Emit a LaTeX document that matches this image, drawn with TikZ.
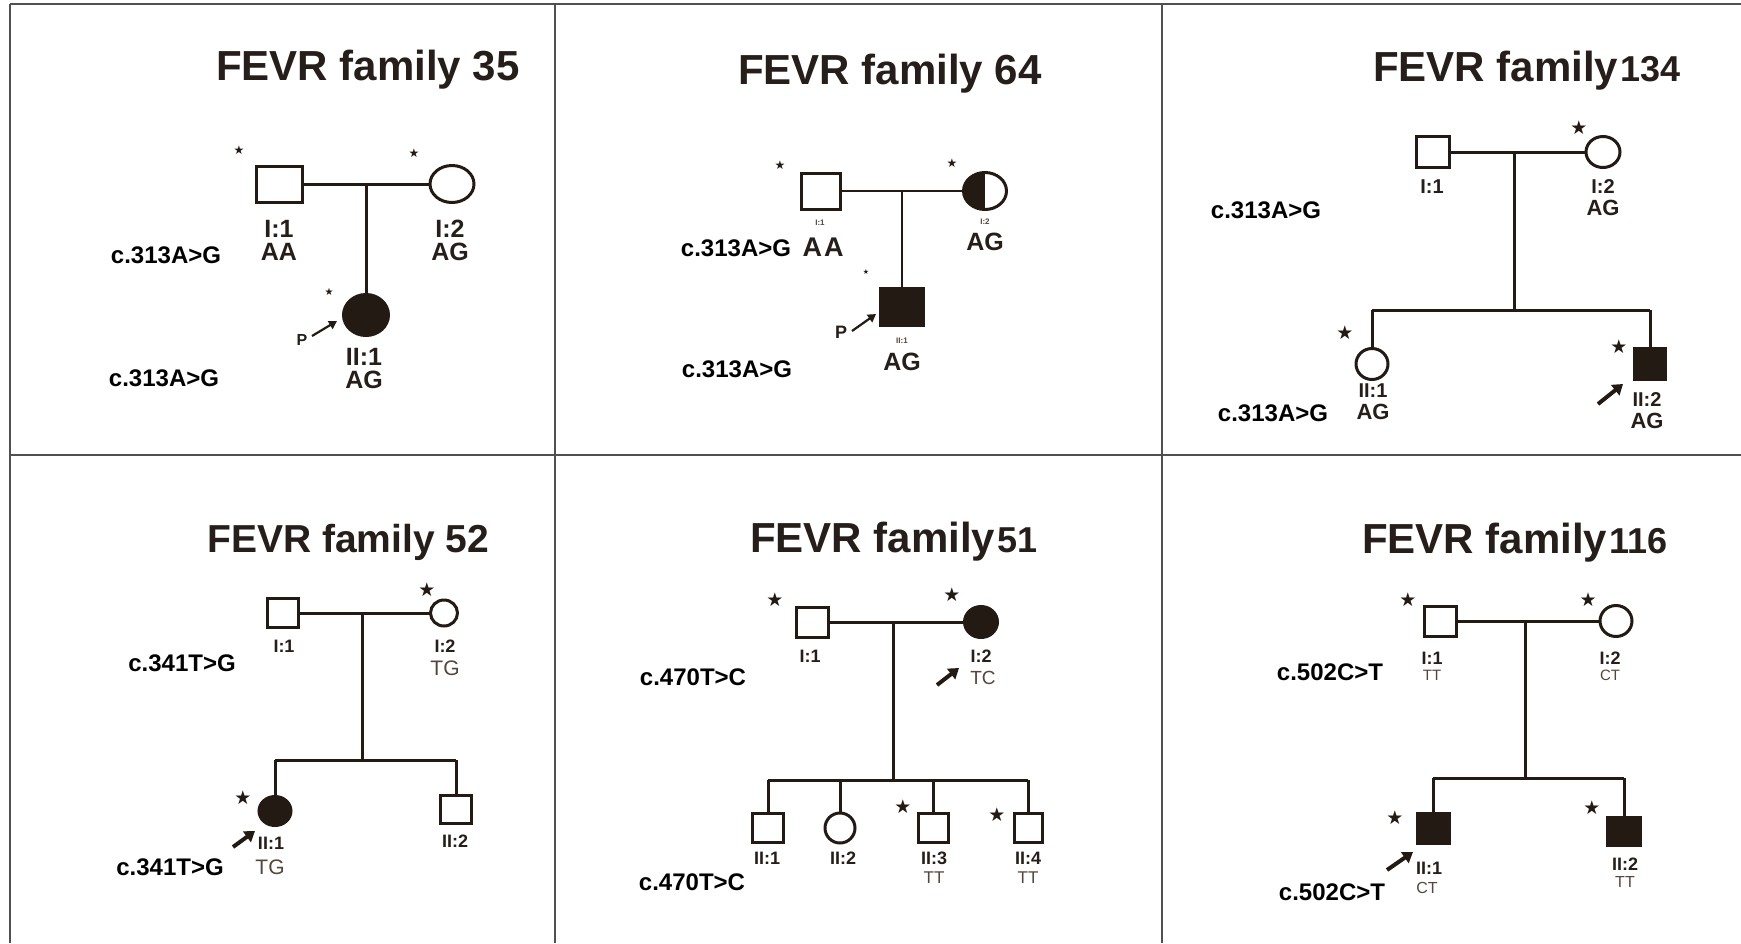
\documentclass[tikz,border=0pt]{standalone}
\usepackage{fontspec}
\setmainfont{Liberation Sans}
\newfontfamily\symfont{DejaVu Sans}
\usetikzlibrary{shapes.geometric,arrows.meta}
\definecolor{pedc}{RGB}{35,26,20}
\definecolor{txtc}{RGB}{38,30,26}
\definecolor{softc}{RGB}{85,70,60}
\definecolor{gridc}{RGB}{80,80,80}
\tikzset{
  conn/.style={draw=pedc, line width=3pt},
  thinconn/.style={draw=pedc, line width=1.8pt},
  sq/.style 2 args={rectangle, draw=pedc, line width=3pt, inner sep=0pt, outer sep=0pt, minimum width=#1, minimum height=#2},
  ci/.style 2 args={ellipse, draw=pedc, line width=3pt, inner sep=0pt, outer sep=0pt, minimum width=#1, minimum height=#2},
  aff/.style={fill=pedc},
  half/.style={path picture={\fill[pedc] (path picture bounding box.south west) rectangle (path picture bounding box.north);}},
  lbl/.style={text=txtc, inner sep=0pt, font=\bfseries\fontsize{#1}{#1}\selectfont},
  lbl/.default=20,
  gt/.style={text=softc, inner sep=0pt, font=\fontsize{#1}{#1}\selectfont},
  gt/.default=18,
  var/.style={text=black, inner sep=0pt, font=\bfseries\fontsize{24}{24}\selectfont},
  ttl/.style={text=txtc, inner sep=0pt, anchor=base west, font=\bfseries\fontsize{#1}{#1}\selectfont},
  ttl/.default=42,
  starn/.style={text=pedc, inner sep=0pt, font=\symfont\fontsize{#1}{#1}\selectfont},
  starn/.default=19,
  parr/.style={draw=pedc, line width=2.2pt, -{Triangle[length=8pt,width=9pt]}},
  barr/.style={draw=pedc, line width=4pt, -{Triangle[length=10pt,width=13pt]}},
  grid/.style={draw=gridc, line width=1.5pt}
}
\begin{document}
\begin{tikzpicture}[x=1pt,y=-1pt]
\useasboundingbox (0,0) rectangle (1741,943);
\fill[white] (0,0) rectangle (1741,943);
% frame
\coordinate (gTL) at (10,4);
\coordinate (gTR) at (1741,4);
\coordinate (gBL) at (10,943);
\coordinate (gML) at (10,455);
\coordinate (gMR) at (1741,455);
\coordinate (gD1t) at (555,4);
\coordinate (gD1b) at (555,943);
\coordinate (gD2t) at (1162,4);
\coordinate (gD2b) at (1162,943);
\draw[grid] (gTL) -- (gTR);
\draw[grid] (gTL) -- (gBL);
\draw[grid] (gML) -- (gMR);
\draw[grid] (gD1t) -- (gD1b);
\draw[grid] (gD2t) -- (gD2b);

% ---------------- Panel 1: family 35
\node[ttl=42] (t1) at (216,80) {FEVR family 35};
\node[sq={46pt}{36pt}] (p1a) at (279,184) {};
\node[ci={44pt}{37pt}] (p1b) at (452,184) {};
\node[ci={45pt}{41pt}, aff] (p1c) at (366,315) {};
\coordinate (p1m) at (366,184);
\draw[conn] (p1a.east) -- (p1b.west);
\draw[conn] (p1m) -- (p1c.north);
\node[lbl=25] (p1l1) at (279,229) {I:1};
\node[lbl=25] (p1g1) at (279,252) {AA};
\node[lbl=25] (p1l2) at (450,229) {I:2};
\node[lbl=25] (p1g2) at (450,252) {AG};
\node[lbl=25] (p1l3) at (364,357) {II:1};
\node[lbl=25] (p1g3) at (364,380) {AG};
\node[var] (p1v1) at (166,255) {c.313A>G};
\node[var] (p1v2) at (164,378) {c.313A>G};
\node[starn=12] (p1s1) at (239,150) {★};
\node[starn=12] (p1s2) at (414,153) {★};
\node[starn=10] (p1s3) at (329,292) {★};
\node[lbl=16] (p1p) at (302,340) {P};
\coordinate (p1as) at (312,336);
\coordinate (p1ae) at (337,321);
\draw[parr] (p1as) -- (p1ae);

% ---------------- Panel 2: family 64
\node[ttl=42] (t2) at (738,84) {FEVR family 64};
\node[sq={39pt}{36pt}] (p2a) at (821,191) {};
\node[ci={43pt}{37pt}, half] (p2b) at (985,191) {};
\node[sq={43pt}{37pt}, aff] (p2c) at (902,307) {};
\coordinate (p2m) at (902,191);
\draw[thinconn] (p2a.east) -- (p2b.west);
\draw[thinconn] (p2m) -- (p2c.north);
\node[gt=8] (p2l1) at (820,223) {\bfseries I:1};
\node[gt=8] (p2l2) at (985,222) {\bfseries I:2};
\node[gt=8] (p2l3) at (902,341) {\bfseries II:1};
\node[lbl=27] (p2g1) at (823,247) {A\kern2pt A};
\node[lbl=25] (p2g2) at (985,242) {AG};
\node[lbl=25] (p2g3) at (902,362) {AG};
\node[var] (p2v1) at (736,248) {c.313A>G};
\node[var] (p2v2) at (737,369) {c.313A>G};
\node[starn=12] (p2s1) at (780,165) {★};
\node[starn=12] (p2s2) at (952,163) {★};
\node[starn=7] (p2s3) at (866,272) {★};
\node[lbl=18] (p2p) at (841,332) {P};
\coordinate (p2as) at (852,331);
\coordinate (p2ae) at (876,314);
\draw[parr] (p2as) -- (p2ae);

% ---------------- Panel 3: family 134
\node[ttl=42] (t3) at (1373,81) {FEVR family\kern2pt{\fontsize{36}{36}\selectfont 134}};
\node[sq={33pt}{31pt}] (p3a) at (1433,152) {};
\node[ci={34pt}{31pt}] (p3b) at (1603,152) {};
\node[ci={32pt}{31pt}] (p3c) at (1372,364) {};
\node[sq={31pt}{31pt}, aff] (p3d) at (1650,364) {};
\coordinate (p3m) at (1514,152);
\coordinate (p3s) at (1514,310);
\draw[conn] (p3a.east) -- (p3b.west);
\draw[conn] (p3m) -- (p3s);
\draw[conn] (p3c.north |- p3s) -- (p3d.north |- p3s);
\draw[conn] (p3c.north |- p3s) -- (p3c.north);
\draw[conn] (p3d.north |- p3s) -- (p3d.north);
\node[lbl=20] (p3l1) at (1432,187) {I:1};
\node[lbl=20] (p3l2) at (1603,187) {I:2};
\node[lbl=22] (p3g2) at (1603,208) {AG};
\node[lbl=20] (p3l3) at (1373,391) {II:1};
\node[lbl=22] (p3g3) at (1373,412) {AG};
\node[lbl=20] (p3l4) at (1647,400) {II:2};
\node[lbl=22] (p3g4) at (1647,421) {AG};
\node[var] (p3v1) at (1266,210) {c.313A>G};
\node[var] (p3v2) at (1273,413) {c.313A>G};
\node[starn] (p3s1) at (1579,128) {★};
\node[starn] (p3s2) at (1345,333) {★};
\node[starn] (p3s3) at (1619,347) {★};
\coordinate (p3as) at (1598,404);
\coordinate (p3ae) at (1623,384);
\draw[barr] (p3as) -- (p3ae);

% ---------------- Panel 4: family 52
\node[ttl=39] (t4) at (207,552) {FEVR family 52};
\node[sq={31pt}{29pt}] (p4a) at (283,613) {};
\node[ci={27pt}{26pt}] (p4b) at (444,613) {};
\node[ci={32pt}{29pt}, aff] (p4c) at (275,811) {};
\node[sq={31pt}{28pt}] (p4d) at (456,809) {};
\coordinate (p4m) at (362,613);
\coordinate (p4s) at (362,760);
\draw[conn] (p4a.east) -- (p4b.west);
\draw[conn] (p4m) -- (p4s);
\draw[conn] (p4c.north |- p4s) -- (p4d.north |- p4s);
\draw[conn] (p4c.north |- p4s) -- (p4c.north);
\draw[conn] (p4d.north |- p4s) -- (p4d.north);
\node[lbl=18] (p4l1) at (284,646) {I:1};
\node[lbl=18] (p4l2) at (445,646) {I:2};
\node[gt=21] (p4g2) at (445,668) {TG};
\node[lbl=18] (p4l3) at (271,843) {II:1};
\node[gt=21] (p4g3) at (270,867) {TG};
\node[lbl=18] (p4l4) at (455,841) {II:2};
\node[var] (p4v1) at (182,663) {c.341T>G};
\node[var] (p4v2) at (170,867) {c.341T>G};
\node[starn] (p4s1) at (427,590) {★};
\node[starn] (p4s2) at (243,798) {★};
\coordinate (p4as) at (233,847);
\coordinate (p4ae) at (255,831);
\draw[barr] (p4as) -- (p4ae);

% ---------------- Panel 5: family 51
\node[ttl=42] (t5) at (750,552) {FEVR family\kern2pt{\fontsize{36}{36}\selectfont 51}};
\node[sq={32pt}{30pt}] (p5a) at (812,622) {};
\node[ci={33pt}{31pt}, aff] (p5b) at (981,622) {};
\node[sq={31pt}{29pt}] (p5c) at (768,828) {};
\node[ci={30pt}{30pt}] (p5d) at (840,828) {};
\node[sq={30pt}{29pt}] (p5e) at (933,828) {};
\node[sq={28pt}{29pt}] (p5f) at (1028,828) {};
\coordinate (p5m) at (893,622);
\coordinate (p5s) at (893,780);
\draw[conn] (p5a.east) -- (p5b.west);
\draw[conn] (p5m) -- (p5s);
\draw[conn] (p5c.north |- p5s) -- (p5f.north |- p5s);
\draw[conn] (p5c.north |- p5s) -- (p5c.north);
\draw[conn] (p5d.north |- p5s) -- (p5d.north);
\draw[conn] (p5e.north |- p5s) -- (p5e.north);
\draw[conn] (p5f.north |- p5s) -- (p5f.north);
\node[lbl=18] (p5l1) at (810,656) {I:1};
\node[lbl=18] (p5l2) at (981,656) {I:2};
\node[gt=19] (p5g2) at (983,678) {TC};
\node[lbl=18] (p5l3) at (767,858) {II:1};
\node[lbl=18] (p5l4) at (843,858) {II:2};
\node[lbl=18] (p5l5) at (934,858) {II:3};
\node[gt=17] (p5g5) at (934,878) {TT};
\node[lbl=18] (p5l6) at (1028,858) {II:4};
\node[gt=17] (p5g6) at (1028,878) {TT};
\node[var] (p5v1) at (693,677) {c.470T>C};
\node[var] (p5v2) at (692,882) {c.470T>C};
\node[starn] (p5s1) at (775,600) {★};
\node[starn] (p5s2) at (952,595) {★};
\node[starn] (p5s3) at (903,807) {★};
\node[starn] (p5s4) at (997,815) {★};
\coordinate (p5as) at (937,685);
\coordinate (p5ae) at (959,668);
\draw[barr] (p5as) -- (p5ae);

% ---------------- Panel 6: family 116
\node[ttl=42] (t6) at (1362,553) {FEVR family\kern2pt{\fontsize{36}{36}\selectfont 116}};
\node[sq={32pt}{30pt}] (p6a) at (1440,621) {};
\node[ci={32pt}{31pt}] (p6b) at (1616,621) {};
\node[sq={32pt}{30pt}, aff] (p6c) at (1433,828) {};
\node[sq={33pt}{28pt}, aff] (p6d) at (1624,831) {};
\coordinate (p6m) at (1525,621);
\coordinate (p6s) at (1525,778);
\draw[conn] (p6a.east) -- (p6b.west);
\draw[conn] (p6m) -- (p6s);
\draw[conn] (p6c.north |- p6s) -- (p6d.north |- p6s);
\draw[conn] (p6c.north |- p6s) -- (p6c.north);
\draw[conn] (p6d.north |- p6s) -- (p6d.north);
\node[lbl=18] (p6l1) at (1432,658) {I:1};
\node[gt=15] (p6g1) at (1432,675) {TT};
\node[lbl=18] (p6l2) at (1610,658) {I:2};
\node[gt=15] (p6g2) at (1610,675) {CT};
\node[lbl=18] (p6l3) at (1429,868) {II:1};
\node[gt=16] (p6g3) at (1427,888) {CT};
\node[lbl=18] (p6l4) at (1625,864) {II:2};
\node[gt=16] (p6g4) at (1625,882) {TT};
\node[var] (p6v1) at (1330,672) {c.502C>T};
\node[var] (p6v2) at (1332,892) {c.502C>T};
\node[starn] (p6s1) at (1408,600) {★};
\node[starn] (p6s2) at (1588,600) {★};
\node[starn] (p6s3) at (1395,818) {★};
\node[starn] (p6s4) at (1592,808) {★};
\coordinate (p6as) at (1387,870);
\coordinate (p6ae) at (1413,852);
\draw[barr] (p6as) -- (p6ae);
\end{tikzpicture}
\end{document}
